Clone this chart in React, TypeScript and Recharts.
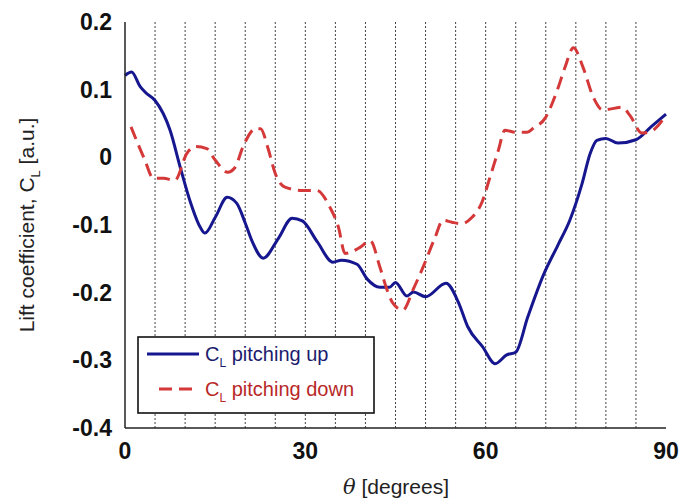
import { Legend, Line, LineChart, ReferenceLine, XAxis, YAxis } from "recharts";

const upX = [0, 1.1, 2.5, 3.5, 5, 7.5, 9.2, 10.8, 12.5, 13.3, 15, 17, 18.6, 20, 21.1, 23, 25.5, 27.8, 29.5, 32, 34.6, 36, 38.6, 40.3, 42.4, 44, 45, 46.9, 48, 50, 53.4, 55.5, 57, 59.5, 61.6, 63.5, 65, 67, 69.6, 72, 74, 76, 77.4, 78.5, 80, 82, 85, 87.5, 90];
const upY = [0.121, 0.126, 0.105, 0.095, 0.084, 0.04, -0.015, -0.064, -0.103, -0.112, -0.089, -0.059, -0.068, -0.097, -0.123, -0.149, -0.12, -0.09, -0.094, -0.125, -0.155, -0.152, -0.158, -0.18, -0.192, -0.192, -0.185, -0.205, -0.199, -0.206, -0.186, -0.215, -0.25, -0.28, -0.305, -0.292, -0.288, -0.236, -0.174, -0.13, -0.093, -0.04, 0.006, 0.025, 0.028, 0.021, 0.026, 0.045, 0.064];

const downX = [1, 3.3, 4.7, 6.4, 8.3, 10.3, 11.8, 13.6, 15, 17.1, 18.3, 19.6, 21.8, 22.6, 23.8, 25, 26.6, 29.6, 31.9, 34.1, 35.5, 36.6, 39.1, 40.8, 42.4, 43.6, 44.6, 46.2, 48, 49.6, 51.6, 52.9, 54.4, 56, 57.7, 59.4, 60.7, 62.1, 63.2, 65, 66.9, 67.9, 69.9, 71.9, 73.2, 74.6, 76.2, 77.9, 79.5, 82.7, 84, 86, 87.4, 90];
const downY = [0.045, -0.004, -0.031, -0.031, -0.034, 0.006, 0.016, 0.013, -0.004, -0.022, -0.015, 0.015, 0.043, 0.042, 0.013, -0.024, -0.044, -0.049, -0.049, -0.074, -0.103, -0.142, -0.133, -0.123, -0.162, -0.196, -0.216, -0.226, -0.194, -0.162, -0.118, -0.093, -0.096, -0.098, -0.089, -0.066, -0.03, 0.01, 0.04, 0.037, 0.037, 0.043, 0.058, 0.099, 0.133, 0.162, 0.133, 0.089, 0.07, 0.074, 0.062, 0.036, 0.038, 0.062];

const xTicks = [0, 30, 60, 90];
const yTicks = [-0.4, -0.3, -0.2, -0.1, 0, 0.1, 0.2];
const gridX = [5, 10, 15, 20, 25, 30, 35, 40, 45, 50, 55, 60, 65, 70, 75, 80, 85];

const upData = upX.map((x, i) => ({ x, y: upY[i] }));
const downData = downX.map((x, i) => ({ x, y: downY[i] }));

const FONT = "'Liberation Sans', Arial, sans-serif";
const BLUE = "#16168f";
const RED = "#d43838";

function fmtY(v: number) {
  if (Math.abs(v) < 1e-9) return "0";
  return v.toFixed(1);
}

function LegendBox() {
  return (
    <svg width={238} height={78} style={{ display: "block" }}>
      <rect x={1} y={1} width={236} height={76} fill="#fff" stroke="#111" strokeWidth={1.6} />
      <line x1={10} y1={18} x2={62} y2={18} stroke={BLUE} strokeWidth={3} />
      <text x={68} y={25} fontFamily={FONT} fontSize={20} fill="#1c1c6e">
        C<tspan fontSize={12} dy={6}>L</tspan>
        <tspan dy={-6}> pitching up</tspan>
      </text>
      <line x1={22} y1={53} x2={62} y2={53} stroke={RED} strokeWidth={3} strokeDasharray="13 7" />
      <text x={68} y={60} fontFamily={FONT} fontSize={20} fill="#b82828">
        C<tspan fontSize={12} dy={6}>L</tspan>
        <tspan dy={-6}> pitching down</tspan>
      </text>
    </svg>
  );
}

export default function App() {
  return (
    <div style={{ width: 687, height: 503, background: "#fff" }}>
      <style>{"body{margin:0}"}</style>
      <LineChart width={687} height={503} margin={{ top: 22, right: 21, bottom: 45, left: 0 }}>
        <XAxis
          xAxisId="b"
          dataKey="x"
          type="number"
          domain={[0, 90]}
          ticks={xTicks}
          height={30}
          tickSize={0}
          tickMargin={15}
          tickLine={false}
          axisLine={{ stroke: "#222", strokeWidth: 1.5 }}
          tick={{ fontFamily: FONT, fontSize: 23, fontWeight: "bold", fill: "#111" }}
          allowDuplicatedCategory={false}
          label={{
            content: () => (
              <text x={396} y={494} textAnchor="middle" fontFamily={FONT} fontSize={21} fill="#222">
                <tspan fontFamily="'DejaVu Serif', serif" fontStyle="italic">θ</tspan>
                <tspan> [degrees]</tspan>
              </text>
            ),
          }}
        />
        <XAxis
          xAxisId="t"
          orientation="top"
          dataKey="x"
          type="number"
          domain={[0, 90]}
          tick={false}
          tickLine={false}
          height={0}
          axisLine={{ stroke: "#222", strokeWidth: 1.5 }}
          allowDuplicatedCategory={false}
        />
        <YAxis
          yAxisId="l"
          type="number"
          domain={[-0.4, 0.2]}
          ticks={yTicks}
          width={125}
          tickSize={0}
          tickMargin={13}
          tickLine={false}
          tickFormatter={fmtY}
          axisLine={{ stroke: "#222", strokeWidth: 1.5 }}
          tick={{ fontFamily: FONT, fontSize: 23, fontWeight: "bold", fill: "#111" }}
          label={{
            content: () => (
              <text
                x={34}
                y={225}
                transform="rotate(-90, 34, 225)"
                textAnchor="middle"
                fontFamily={FONT}
                fontSize={21}
                fill="#222"
              >
                Lift coefficient, C<tspan fontSize={13} dy={6}>L</tspan>
                <tspan dy={-6}> [a.u.]</tspan>
              </text>
            ),
          }}
        />
        <YAxis
          yAxisId="r"
          orientation="right"
          type="number"
          domain={[-0.4, 0.2]}
          width={0}
          tick={false}
          tickLine={false}
          axisLine={{ stroke: "#222", strokeWidth: 1.5 }}
        />
        {gridX.map((g) => (
          <ReferenceLine
            key={g}
            x={g}
            xAxisId="b"
            yAxisId="l"
            stroke="#444"
            strokeWidth={1}
            strokeDasharray="2 2"
          />
        ))}
        <Line
          xAxisId="b"
          yAxisId="l"
          data={upData}
          dataKey="y"
          type="monotone"
          stroke={BLUE}
          strokeWidth={3}
          dot={false}
          isAnimationActive={false}
        />
        <Line
          xAxisId="b"
          yAxisId="l"
          data={downData}
          dataKey="y"
          type="monotone"
          stroke={RED}
          strokeWidth={3}
          strokeDasharray="13 7"
          dot={false}
          isAnimationActive={false}
        />
        <Legend
          layout="vertical"
          align="center"
          verticalAlign="middle"
          content={() => <LegendBox />}
          wrapperStyle={{ position: "absolute", left: 137, top: 336, width: 238, height: 78 }}
        />
      </LineChart>
    </div>
  );
}
